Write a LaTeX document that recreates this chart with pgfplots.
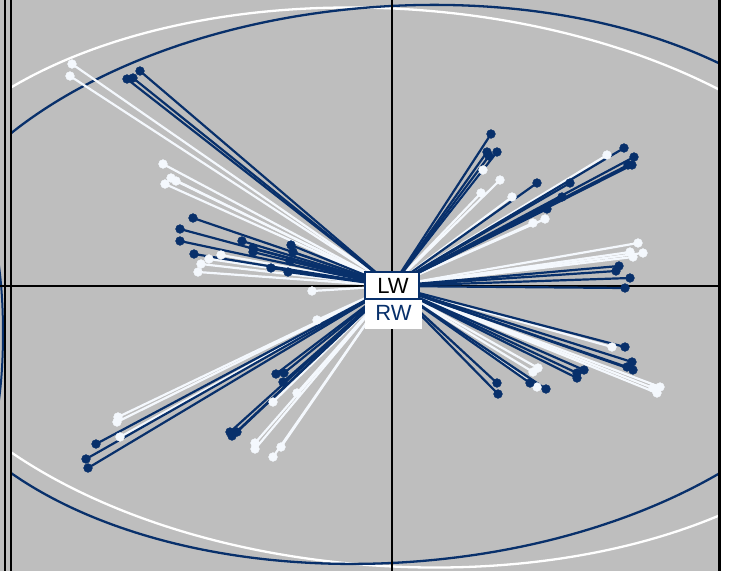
\documentclass[border=0pt]{standalone}
\usepackage{pgfplots}
\pgfplotsset{compat=1.18}
\usepackage{fontspec}
\setmainfont{Liberation Sans}
\definecolor{navy}{HTML}{08306B}
\definecolor{wline}{HTML}{F4F8FD}
\definecolor{bg}{HTML}{BEBEBE}

% endpoints in pixel coordinates (y measured downwards)
\pgfplotstableread{
x y
140 71
133 78
127 79
193 218
180 229
180 241
194 254
242 241
253 248
253 252
291 245
293 252
290 261
271 268
288 272
491 134
487 152
489 156
497 152
537 183
570 183
624 148
634 157
628 165
632 165
562 197
547 209
619 266
616 271
630 278
625 288
625 347
632 362
627 367
633 370
584 370
577 373
577 378
497 383
498 394
530 383
546 389
96 444
86 459
88 468
230 432
237 432
232 436
276 374
284 373
283 382
}\navyends

\pgfplotstableread{
x y
72 64
70 76
163 164
171 178
176 181
165 184
221 255
209 259
201 264
198 272
312 291
483 170
500 180
481 193
512 197
607 155
533 223
545 219
638 243
630 252
643 253
633 257
660 387
657 393
653 388
537 387
533 372
538 368
612 347
118 417
117 422
120 437
255 443
255 449
281 447
273 457
297 393
273 402
317 320
}\whiteends

\begin{document}
\begin{tikzpicture}
\begin{axis}[
  width=730pt, height=571pt, scale only axis,
  xmin=0, xmax=730, ymin=0, ymax=571, y dir=reverse,
  axis lines=none, ticks=none, clip=true,
]
\fill[white] (axis cs:0,0) rectangle (axis cs:730,571);
\fill[bg] (axis cs:0,0) rectangle (axis cs:719,571);
% neighbouring panel piece on the left
\begin{scope}
\clip (axis cs:0,0) rectangle (axis cs:4.5,571);
\draw[navy, line width=2pt] (axis cs:-17,333) ellipse [x radius=20pt, y radius=112pt];
\end{scope}
% ellipses
\begin{scope}
\clip (axis cs:11,0) rectangle (axis cs:719,571);
\draw[white, line width=2.3pt, rotate around={-3.8:(axis cs:393,287.5)}] (axis cs:393,287.5) ellipse [x radius=505.5pt, y radius=278.6pt];
\draw[navy, line width=2.3pt, rotate around={4.2:(axis cs:393,284.4)}] (axis cs:393,284.4) ellipse [x radius=482.9pt, y radius=278pt];
\end{scope}
% frame and zero lines
\draw[black, line width=2pt] (axis cs:0,286) -- (axis cs:719,286);
\draw[black, line width=2pt] (axis cs:392,0) -- (axis cs:392,571);
\draw[black, line width=2pt] (axis cs:4.9,0) -- (axis cs:4.9,571);
\draw[black, line width=2pt] (axis cs:10.9,0) -- (axis cs:10.9,571);
\draw[black, line width=2.6pt] (axis cs:719.3,0) -- (axis cs:719.3,571);

% white series
\addplot[wline, line width=2.2pt, quiver={u={392-\thisrow{x}}, v={286-\thisrow{y}}}] table[x=x, y=y] {\whiteends};
\addplot[only marks, mark=*, mark size=4.4pt, wline, mark options={draw=wline, fill=wline}] table[x=x, y=y] {\whiteends};
% navy series
\addplot[navy, line width=2.2pt, quiver={u={392-\thisrow{x}}, v={286-\thisrow{y}}}] table[x=x, y=y] {\navyends};
\addplot[only marks, mark=*, mark size=4.4pt, navy, mark options={draw=navy, fill=navy}] table[x=x, y=y] {\navyends};

% labels
\filldraw[fill=white, draw=navy, line width=1.4pt] (axis cs:365,272) rectangle (axis cs:419,299);
\node[font=\fontsize{22}{24}\selectfont, text=black, inner sep=0pt] at (axis cs:393,285.5) {LW};
\fill[white] (axis cs:365,299.7) rectangle (axis cs:422,329);
\node[font=\fontsize{22}{24}\selectfont, text=navy, inner sep=0pt] at (axis cs:393.5,312.5) {RW};
\end{axis}
\end{tikzpicture}
\end{document}
